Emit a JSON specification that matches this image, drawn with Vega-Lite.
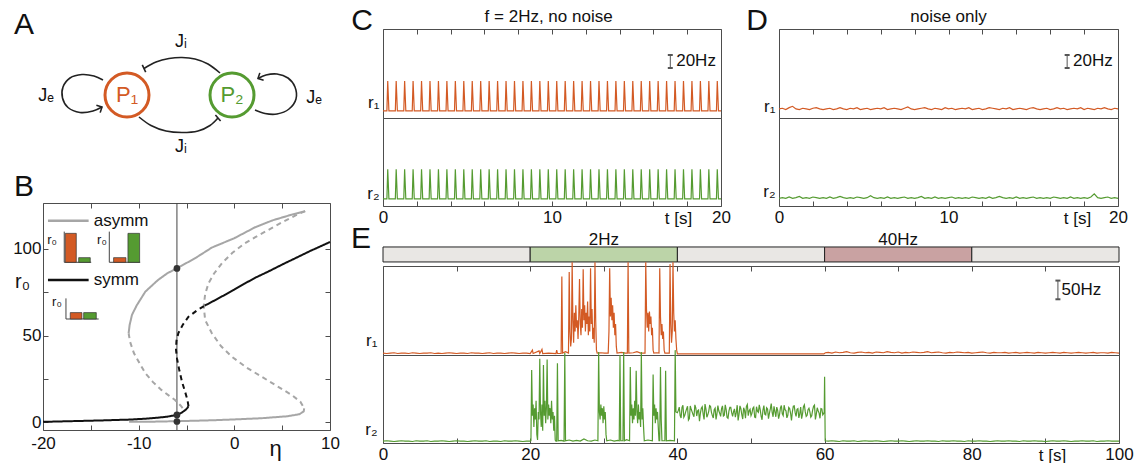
{
"padding": {"left": 12, "top": 5, "right": 2, "bottom": 2},
"background": "white",
"config": {
  "font": "Liberation Sans",
  "view": {"stroke": "#4d4d4d", "strokeWidth": 1},
  "axis": {"domain": false, "grid": false, "labelFontSize": 17, "labelColor": "#111111", "labelFont": "Liberation Sans, DejaVu Sans", "tickColor": "#4d4d4d", "tickWidth": 1, "labelFlush": false, "labelOverlap": false, "titleFontWeight": "normal", "titleColor": "#111111", "titleFont": "Liberation Sans, DejaVu Sans", "titlePadding": 0},
  "text": {"font": "Liberation Sans, DejaVu Sans", "fontSize": 17, "color": "#111111"}
},
"datasets": {
"cs": [{"t":0,"r":1},
{"t":0.23,"r":1},{"t":0.28,"r":47},{"t":0.35,"r":1},{"t":0.73,"r":1},{"t":0.78,"r":47},{"t":0.85,"r":1},
{"t":1.23,"r":1},{"t":1.28,"r":47},{"t":1.35,"r":1},{"t":1.73,"r":1},{"t":1.78,"r":47},{"t":1.85,"r":1},
{"t":2.23,"r":1},{"t":2.28,"r":47},{"t":2.35,"r":1},{"t":2.73,"r":1},{"t":2.78,"r":47},{"t":2.85,"r":1},
{"t":3.23,"r":1},{"t":3.28,"r":47},{"t":3.35,"r":1},{"t":3.73,"r":1},{"t":3.78,"r":47},{"t":3.85,"r":1},
{"t":4.23,"r":1},{"t":4.28,"r":47},{"t":4.35,"r":1},{"t":4.73,"r":1},{"t":4.78,"r":47},{"t":4.85,"r":1},
{"t":5.23,"r":1},{"t":5.28,"r":47},{"t":5.35,"r":1},{"t":5.73,"r":1},{"t":5.78,"r":47},{"t":5.85,"r":1},
{"t":6.23,"r":1},{"t":6.28,"r":47},{"t":6.35,"r":1},{"t":6.73,"r":1},{"t":6.78,"r":47},{"t":6.85,"r":1},
{"t":7.23,"r":1},{"t":7.28,"r":47},{"t":7.35,"r":1},{"t":7.73,"r":1},{"t":7.78,"r":47},{"t":7.85,"r":1},
{"t":8.23,"r":1},{"t":8.28,"r":47},{"t":8.35,"r":1},{"t":8.73,"r":1},{"t":8.78,"r":47},{"t":8.85,"r":1},
{"t":9.23,"r":1},{"t":9.28,"r":47},{"t":9.35,"r":1},{"t":9.73,"r":1},{"t":9.78,"r":47},{"t":9.85,"r":1},
{"t":10.23,"r":1},{"t":10.28,"r":47},{"t":10.35,"r":1},{"t":10.73,"r":1},{"t":10.78,"r":47},{"t":10.85,"r":1},
{"t":11.23,"r":1},{"t":11.28,"r":47},{"t":11.35,"r":1},{"t":11.73,"r":1},{"t":11.78,"r":47},{"t":11.85,"r":1},
{"t":12.23,"r":1},{"t":12.28,"r":47},{"t":12.35,"r":1},{"t":12.73,"r":1},{"t":12.78,"r":47},{"t":12.85,"r":1},
{"t":13.23,"r":1},{"t":13.28,"r":47},{"t":13.35,"r":1},{"t":13.73,"r":1},{"t":13.78,"r":47},{"t":13.85,"r":1},
{"t":14.23,"r":1},{"t":14.28,"r":47},{"t":14.35,"r":1},{"t":14.73,"r":1},{"t":14.78,"r":47},{"t":14.85,"r":1},
{"t":15.23,"r":1},{"t":15.28,"r":47},{"t":15.35,"r":1},{"t":15.73,"r":1},{"t":15.78,"r":47},{"t":15.85,"r":1},
{"t":16.23,"r":1},{"t":16.28,"r":47},{"t":16.35,"r":1},{"t":16.73,"r":1},{"t":16.78,"r":47},{"t":16.85,"r":1},
{"t":17.23,"r":1},{"t":17.28,"r":47},{"t":17.35,"r":1},{"t":17.73,"r":1},{"t":17.78,"r":47},{"t":17.85,"r":1},
{"t":18.23,"r":1},{"t":18.28,"r":47},{"t":18.35,"r":1},{"t":18.73,"r":1},{"t":18.78,"r":47},{"t":18.85,"r":1},
{"t":19.23,"r":1},{"t":19.28,"r":47},{"t":19.35,"r":1},{"t":19.73,"r":1},{"t":19.78,"r":47},{"t":19.85,"r":1},
{"t":20,"r":1}],
"dn": [
{"t":0,"a":4,"b":2},{"t":0.2,"a":5,"b":3},{"t":0.4,"a":3,"b":2},{"t":0.6,"a":6,"b":4},{"t":0.8,"a":8,"b":2},{"t":1,"a":4,"b":3},{"t":1.2,"a":3,"b":5},{"t":1.4,"a":5,"b":2},{"t":1.6,"a":4,"b":3},{"t":1.8,"a":3,"b":2},
{"t":2,"a":5,"b":4},{"t":2.2,"a":6,"b":3},{"t":2.4,"a":4,"b":2},{"t":2.6,"a":3,"b":3},{"t":2.8,"a":4,"b":2},{"t":3,"a":5,"b":4},{"t":3.2,"a":3,"b":2},{"t":3.4,"a":4,"b":3},{"t":3.6,"a":6,"b":5},{"t":3.8,"a":4,"b":3},
{"t":4,"a":3,"b":2},{"t":4.2,"a":5,"b":3},{"t":4.4,"a":4,"b":2},{"t":4.6,"a":6,"b":4},{"t":4.8,"a":3,"b":3},{"t":5,"a":4,"b":2},{"t":5.2,"a":5,"b":3},{"t":5.4,"a":3,"b":6},{"t":5.6,"a":4,"b":3},{"t":5.8,"a":5,"b":2},
{"t":6,"a":4,"b":3},{"t":6.2,"a":6,"b":2},{"t":6.4,"a":3,"b":4},{"t":6.6,"a":4,"b":2},{"t":6.8,"a":5,"b":3},{"t":7,"a":4,"b":2},{"t":7.2,"a":3,"b":3},{"t":7.4,"a":5,"b":4},{"t":7.6,"a":7,"b":2},{"t":7.8,"a":4,"b":3},
{"t":8,"a":3,"b":2},{"t":8.2,"a":4,"b":3},{"t":8.4,"a":5,"b":5},{"t":8.6,"a":6,"b":2},{"t":8.8,"a":4,"b":3},{"t":9,"a":3,"b":2},{"t":9.2,"a":5,"b":4},{"t":9.4,"a":4,"b":2},{"t":9.6,"a":3,"b":3},{"t":9.8,"a":6,"b":2},
{"t":10,"a":4,"b":3},{"t":10.2,"a":5,"b":4},{"t":10.4,"a":3,"b":2},{"t":10.6,"a":4,"b":3},{"t":10.8,"a":5,"b":2},{"t":11,"a":4,"b":3},{"t":11.2,"a":6,"b":2},{"t":11.4,"a":3,"b":4},{"t":11.6,"a":4,"b":3},{"t":11.8,"a":5,"b":2},
{"t":12,"a":3,"b":3},{"t":12.2,"a":4,"b":2},{"t":12.4,"a":6,"b":4},{"t":12.6,"a":5,"b":2},{"t":12.8,"a":4,"b":3},{"t":13,"a":3,"b":5},{"t":13.2,"a":5,"b":3},{"t":13.4,"a":4,"b":2},{"t":13.6,"a":6,"b":3},{"t":13.8,"a":3,"b":2},
{"t":14,"a":4,"b":4},{"t":14.2,"a":5,"b":2},{"t":14.4,"a":4,"b":3},{"t":14.6,"a":3,"b":2},{"t":14.8,"a":5,"b":3},{"t":15,"a":6,"b":4},{"t":15.2,"a":4,"b":2},{"t":15.4,"a":3,"b":3},{"t":15.6,"a":4,"b":2},{"t":15.8,"a":5,"b":3},
{"t":16,"a":3,"b":2},{"t":16.2,"a":4,"b":4},{"t":16.4,"a":6,"b":3},{"t":16.6,"a":4,"b":2},{"t":16.8,"a":5,"b":3},{"t":17,"a":3,"b":2},{"t":17.2,"a":4,"b":4},{"t":17.4,"a":5,"b":2},{"t":17.6,"a":4,"b":3},{"t":17.8,"a":6,"b":2},
{"t":18,"a":3,"b":3},{"t":18.2,"a":5,"b":2},{"t":18.4,"a":4,"b":4},{"t":18.6,"a":3,"b":9},{"t":18.8,"a":5,"b":3},{"t":19,"a":4,"b":2},{"t":19.2,"a":6,"b":3},{"t":19.4,"a":4,"b":4},{"t":19.6,"a":3,"b":2},{"t":19.8,"a":5,"b":3},
{"t":20,"a":4,"b":2}],
"ea": [
{"t":0,"r":2},{"t":0.5,"r":1},{"t":1,"r":2},{"t":1.5,"r":3},{"t":2,"r":1},{"t":2.5,"r":2},{"t":3,"r":2},{"t":3.5,"r":1},{"t":4,"r":3},{"t":4.5,"r":2},
{"t":5,"r":1},{"t":5.5,"r":2},{"t":6,"r":2},{"t":6.5,"r":3},{"t":7,"r":1},{"t":7.5,"r":2},{"t":8,"r":1},{"t":8.5,"r":2},{"t":9,"r":3},{"t":9.5,"r":2},
{"t":10,"r":1},{"t":10.5,"r":2},{"t":11,"r":2},{"t":11.5,"r":1},{"t":12,"r":3},{"t":12.5,"r":2},{"t":13,"r":2},{"t":13.5,"r":1},{"t":14,"r":2},{"t":14.5,"r":3},
{"t":15,"r":1},{"t":15.5,"r":2},{"t":16,"r":2},{"t":16.5,"r":1},{"t":17,"r":2},{"t":17.5,"r":3},{"t":18,"r":2},{"t":18.5,"r":1},{"t":19,"r":2},{"t":19.5,"r":2},
{"t":20,"r":1},{"t":20.3,"r":10},{"t":20.4,"r":1},{"t":21.2,"r":8},{"t":21.3,"r":1},{"t":21.6,"r":12},{"t":21.7,"r":1},{"t":22.5,"r":2},{"t":23.5,"r":1},{"t":23.6,"r":10},{"t":23.7,"r":1},
{"t":24.2,"r":1},{"t":24.3,"r":207},{"t":24.4,"r":2},{"t":24.8,"r":6},{"t":25.2,"r":2},{"t":25.3,"r":219},{"t":25.4,"r":60},{"t":25.5,"r":20},{"t":25.6,"r":40},{"t":25.7,"r":245},{"t":25.8,"r":90},{"t":25.9,"r":30},
{"t":26,"r":110},{"t":26.1,"r":60},{"t":26.2,"r":130},{"t":26.3,"r":70},{"t":26.4,"r":90},{"t":26.5,"r":40},{"t":26.6,"r":100},{"t":26.7,"r":200},{"t":26.8,"r":80},{"t":26.9,"r":50},
{"t":27,"r":120},{"t":27.1,"r":70},{"t":27.2,"r":226},{"t":27.3,"r":90},{"t":27.4,"r":130},{"t":27.5,"r":60},{"t":27.6,"r":110},{"t":27.7,"r":80},{"t":27.8,"r":140},{"t":27.9,"r":50},
{"t":28,"r":100},{"t":28.1,"r":60},{"t":28.2,"r":229},{"t":28.3,"r":80},{"t":28.4,"r":120},{"t":28.5,"r":40},{"t":28.6,"r":70},{"t":28.7,"r":30},{"t":28.8,"r":245},{"t":28.9,"r":90},{"t":29,"r":10},{"t":29.1,"r":2},
{"t":29.6,"r":3},{"t":30.1,"r":2},{"t":30.6,"r":2},{"t":30.7,"r":60},{"t":30.8,"r":229},{"t":30.9,"r":100},{"t":31,"r":150},{"t":31.1,"r":90},{"t":31.2,"r":130},{"t":31.3,"r":70},{"t":31.4,"r":110},{"t":31.5,"r":50},{"t":31.6,"r":80},{"t":31.7,"r":20},{"t":31.8,"r":2},
{"t":32.4,"r":4},{"t":32.9,"r":2},{"t":33.2,"r":2},{"t":33.3,"r":245},{"t":33.4,"r":2},{"t":34,"r":3},{"t":34.5,"r":6},{"t":35,"r":2},
{"t":35.6,"r":2},{"t":35.7,"r":245},{"t":35.8,"r":120},{"t":35.9,"r":70},{"t":36,"r":110},{"t":36.1,"r":60},{"t":36.2,"r":113},{"t":36.3,"r":80},{"t":36.4,"r":100},{"t":36.5,"r":50},{"t":36.6,"r":70},{"t":36.7,"r":10},{"t":36.8,"r":2},
{"t":37.2,"r":3},{"t":37.5,"r":2},{"t":37.6,"r":229},{"t":37.7,"r":100},{"t":37.8,"r":50},{"t":37.9,"r":80},{"t":38,"r":40},{"t":38.1,"r":60},{"t":38.2,"r":10},{"t":38.3,"r":2},
{"t":38.6,"r":2},{"t":38.9,"r":2},{"t":39,"r":240},{"t":39.1,"r":80},{"t":39.2,"r":30},{"t":39.3,"r":60},{"t":39.4,"r":245},{"t":39.5,"r":110},{"t":39.6,"r":60},{"t":39.7,"r":90},{"t":39.8,"r":40},{"t":39.9,"r":10},
{"t":40,"r":0},{"t":59.9,"r":0},{"t":60.1,"r":3},
{"t":60.5,"r":4},{"t":61,"r":2},{"t":61.5,"r":5},{"t":62,"r":3},{"t":62.5,"r":4},{"t":63,"r":6},{"t":63.5,"r":3},{"t":64,"r":2},{"t":64.5,"r":4},{"t":65,"r":5},
{"t":65.5,"r":3},{"t":66,"r":4},{"t":66.5,"r":2},{"t":67,"r":5},{"t":67.5,"r":4},{"t":68,"r":3},{"t":68.5,"r":6},{"t":69,"r":4},{"t":69.5,"r":3},{"t":70,"r":5},
{"t":70.5,"r":2},{"t":71,"r":4},{"t":71.5,"r":3},{"t":72,"r":5},{"t":72.5,"r":4},{"t":73,"r":3},{"t":73.5,"r":4},{"t":74,"r":6},{"t":74.5,"r":3},{"t":75,"r":4},
{"t":75.5,"r":5},{"t":76,"r":3},{"t":76.5,"r":2},{"t":77,"r":4},{"t":77.5,"r":3},{"t":78,"r":5},{"t":78.5,"r":4},{"t":79,"r":3},{"t":79.5,"r":4},{"t":80,"r":2},
{"t":80.5,"r":3},{"t":81,"r":4},{"t":81.5,"r":5},{"t":82,"r":3},{"t":82.5,"r":2},{"t":83,"r":4},{"t":83.5,"r":3},{"t":84,"r":3},{"t":84.5,"r":4},{"t":85,"r":2},
{"t":85.5,"r":3},{"t":86,"r":4},{"t":86.5,"r":2},{"t":87,"r":3},{"t":87.5,"r":4},{"t":88,"r":3},{"t":88.5,"r":2},{"t":89,"r":4},{"t":89.5,"r":3},{"t":90,"r":2},
{"t":90.5,"r":3},{"t":91,"r":4},{"t":91.5,"r":3},{"t":92,"r":2},{"t":92.5,"r":4},{"t":93,"r":3},{"t":93.5,"r":2},{"t":94,"r":3},{"t":94.5,"r":4},{"t":95,"r":3},
{"t":95.5,"r":2},{"t":96,"r":3},{"t":96.5,"r":4},{"t":97,"r":2},{"t":97.5,"r":3},{"t":98,"r":3},{"t":98.5,"r":2},{"t":99,"r":4},{"t":99.5,"r":3},{"t":100,"r":2}],
"eb": [
{"t":0,"r":2},{"t":0.5,"r":3},{"t":1,"r":2},{"t":1.5,"r":1},{"t":2,"r":2},{"t":2.5,"r":3},{"t":3,"r":2},{"t":3.5,"r":2},{"t":4,"r":1},{"t":4.5,"r":3},
{"t":5,"r":2},{"t":5.5,"r":2},{"t":6,"r":3},{"t":6.5,"r":1},{"t":7,"r":2},{"t":7.5,"r":2},{"t":8,"r":3},{"t":8.5,"r":2},{"t":9,"r":1},{"t":9.5,"r":2},
{"t":10,"r":3},{"t":10.5,"r":2},{"t":11,"r":2},{"t":11.5,"r":1},{"t":12,"r":2},{"t":12.5,"r":3},{"t":13,"r":2},{"t":13.5,"r":2},{"t":14,"r":3},{"t":14.5,"r":1},
{"t":15,"r":2},{"t":15.5,"r":2},{"t":16,"r":1},{"t":16.5,"r":3},{"t":17,"r":2},{"t":17.5,"r":2},{"t":18,"r":3},{"t":18.5,"r":2},{"t":19,"r":1},{"t":19.5,"r":2},
{"t":20,"r":2},{"t":20.1,"r":3},{"t":20.2,"r":192},{"t":20.3,"r":70},{"t":20.4,"r":100},{"t":20.5,"r":40},{"t":20.6,"r":90},{"t":20.7,"r":60},{"t":20.8,"r":110},{"t":20.9,"r":20},
{"t":21,"r":5},{"t":21.1,"r":80},{"t":21.2,"r":60},{"t":21.3,"r":222},{"t":21.4,"r":80},{"t":21.5,"r":40},{"t":21.6,"r":100},{"t":21.7,"r":30},{"t":21.8,"r":205},{"t":21.9,"r":70},
{"t":22,"r":110},{"t":22.1,"r":50},{"t":22.2,"r":90},{"t":22.3,"r":220},{"t":22.4,"r":60},{"t":22.5,"r":100},{"t":22.6,"r":70},{"t":22.7,"r":90},{"t":22.8,"r":50},{"t":22.9,"r":110},
{"t":23,"r":60},{"t":23.1,"r":80},{"t":23.2,"r":30},{"t":23.3,"r":70},{"t":23.4,"r":5},{"t":23.5,"r":2},{"t":23.6,"r":2},{"t":23.7,"r":210},{"t":23.8,"r":3},{"t":24.2,"r":4},
{"t":24.6,"r":2},{"t":24.7,"r":237},{"t":24.8,"r":3},{"t":25.3,"r":5},{"t":25.8,"r":2},{"t":26.3,"r":4},{"t":26.8,"r":2},{"t":27.3,"r":8},{"t":27.8,"r":3},{"t":28.3,"r":2},{"t":28.8,"r":5},
{"t":29.2,"r":3},{"t":29.3,"r":240},{"t":29.4,"r":80},{"t":29.5,"r":60},{"t":29.6,"r":100},{"t":29.7,"r":70},{"t":29.8,"r":90},{"t":29.9,"r":50},{"t":30,"r":95},{"t":30.1,"r":60},{"t":30.2,"r":80},{"t":30.3,"r":20},{"t":30.4,"r":3},
{"t":30.9,"r":5},{"t":31.4,"r":2},{"t":31.9,"r":4},{"t":32.1,"r":3},{"t":32.2,"r":232},{"t":32.3,"r":3},{"t":32.6,"r":3},{"t":32.7,"r":240},{"t":32.8,"r":3},{"t":33.1,"r":6},
{"t":33.5,"r":3},{"t":33.6,"r":200},{"t":33.7,"r":70},{"t":33.8,"r":100},{"t":33.9,"r":50},{"t":34,"r":90},{"t":34.1,"r":60},{"t":34.2,"r":110},{"t":34.3,"r":70},{"t":34.4,"r":190},
{"t":34.5,"r":80},{"t":34.6,"r":50},{"t":34.7,"r":100},{"t":34.8,"r":60},{"t":34.9,"r":80},{"t":35,"r":40},{"t":35.1,"r":240},{"t":35.2,"r":60},{"t":35.3,"r":90},{"t":35.4,"r":40},{"t":35.5,"r":3},
{"t":36,"r":5},{"t":36.6,"r":3},{"t":36.7,"r":180},{"t":36.8,"r":70},{"t":36.9,"r":100},{"t":37,"r":50},{"t":37.1,"r":90},{"t":37.2,"r":60},{"t":37.3,"r":80},{"t":37.4,"r":40},{"t":37.5,"r":3},
{"t":37.6,"r":3},{"t":37.7,"r":200},{"t":37.8,"r":60},{"t":37.9,"r":3},{"t":38.3,"r":3},{"t":38.4,"r":190},{"t":38.5,"r":3},{"t":39,"r":4},{"t":39.6,"r":3},{"t":39.7,"r":245},{"t":39.8,"r":80},
{"t":40,"r":78},{"t":40.25,"r":93},{"t":40.5,"r":64},{"t":40.75,"r":98},{"t":41,"r":71},{"t":41.25,"r":88},{"t":41.5,"r":58},{"t":41.75,"r":96},{"t":42,"r":80},{"t":42.25,"r":67},
{"t":42.5,"r":91},{"t":42.75,"r":83},{"t":43,"r":55},{"t":43.25,"r":90},{"t":43.5,"r":74},{"t":43.75,"r":101},{"t":44,"r":66},{"t":44.25,"r":81},{"t":44.5,"r":95},{"t":44.75,"r":70},
{"t":45,"r":86},{"t":45.25,"r":60},{"t":45.5,"r":97},{"t":45.75,"r":76},{"t":46,"r":89},{"t":46.25,"r":69},{"t":46.5,"r":99},{"t":46.75,"r":65},{"t":47,"r":82},{"t":47.25,"r":92},
{"t":47.5,"r":68},{"t":47.75,"r":88},{"t":48,"r":78},{"t":48.25,"r":57},{"t":48.5,"r":96},{"t":48.75,"r":73},{"t":49,"r":91},{"t":49.25,"r":63},{"t":49.5,"r":100},{"t":49.75,"r":83},
{"t":50,"r":70},{"t":50.25,"r":90},{"t":50.5,"r":66},{"t":50.75,"r":94},{"t":51,"r":79},{"t":51.25,"r":86},{"t":51.5,"r":59},{"t":51.75,"r":97},{"t":52,"r":72},{"t":52.25,"r":88},
{"t":52.5,"r":76},{"t":52.75,"r":102},{"t":53,"r":67},{"t":53.25,"r":81},{"t":53.5,"r":93},{"t":53.75,"r":62},{"t":54,"r":91},{"t":54.25,"r":75},{"t":54.5,"r":98},{"t":54.75,"r":83},
{"t":55,"r":71},{"t":55.25,"r":89},{"t":55.5,"r":57},{"t":55.75,"r":95},{"t":56,"r":78},{"t":56.25,"r":87},{"t":56.5,"r":64},{"t":56.75,"r":93},{"t":57,"r":74},{"t":57.25,"r":99},
{"t":57.5,"r":68},{"t":57.75,"r":86},{"t":58,"r":80},{"t":58.25,"r":70},{"t":58.5,"r":95},{"t":58.75,"r":60},{"t":59,"r":91},{"t":59.25,"r":77},{"t":59.5,"r":89},{"t":59.75,"r":72},
{"t":40.125,"r":84},{"t":40.375,"r":70},{"t":40.625,"r":92},{"t":40.875,"r":66},{"t":41.125,"r":80},{"t":41.375,"r":95},{"t":41.625,"r":62},{"t":41.875,"r":87},{"t":42.125,"r":73},{"t":42.375,"r":99},
{"t":42.625,"r":69},{"t":42.875,"r":85},{"t":43.125,"r":77},{"t":43.375,"r":94},{"t":43.625,"r":60},{"t":43.875,"r":88},{"t":44.125,"r":72},{"t":44.375,"r":97},{"t":44.625,"r":79},{"t":44.875,"r":64},
{"t":45.125,"r":90},{"t":45.375,"r":75},{"t":45.625,"r":83},{"t":45.875,"r":68},{"t":46.125,"r":96},{"t":46.375,"r":71},{"t":46.625,"r":86},{"t":46.875,"r":63},{"t":47.125,"r":92},{"t":47.375,"r":78},
{"t":47.625,"r":81},{"t":47.875,"r":66},{"t":48.125,"r":98},{"t":48.375,"r":74},{"t":48.625,"r":89},{"t":48.875,"r":61},{"t":49.125,"r":84},{"t":49.375,"r":95},{"t":49.625,"r":70},{"t":49.875,"r":87},
{"t":50.125,"r":76},{"t":50.375,"r":93},{"t":50.625,"r":65},{"t":50.875,"r":82},{"t":51.125,"r":99},{"t":51.375,"r":69},{"t":51.625,"r":85},{"t":51.875,"r":74},{"t":52.125,"r":91},{"t":52.375,"r":62},
{"t":52.625,"r":88},{"t":52.875,"r":79},{"t":53.125,"r":95},{"t":53.375,"r":67},{"t":53.625,"r":84},{"t":53.875,"r":73},{"t":54.125,"r":97},{"t":54.375,"r":70},{"t":54.625,"r":86},{"t":54.875,"r":64},
{"t":55.125,"r":92},{"t":55.375,"r":77},{"t":55.625,"r":81},{"t":55.875,"r":96},{"t":56.125,"r":68},{"t":56.375,"r":89},{"t":56.625,"r":75},{"t":56.875,"r":62},{"t":57.125,"r":94},{"t":57.375,"r":80},
{"t":57.625,"r":71},{"t":57.875,"r":90},{"t":58.125,"r":66},{"t":58.375,"r":85},{"t":58.625,"r":98},{"t":58.875,"r":74},{"t":59.125,"r":83},{"t":59.375,"r":63},{"t":59.625,"r":88},{"t":59.875,"r":76},
{"t":59.95,"r":80},{"t":60,"r":174},{"t":60.08,"r":3},
{"t":60.5,"r":2},{"t":61,"r":3},{"t":61.5,"r":2},{"t":62,"r":1},{"t":62.5,"r":3},{"t":63,"r":2},{"t":63.5,"r":2},{"t":64,"r":3},{"t":64.5,"r":1},{"t":65,"r":2},
{"t":65.5,"r":3},{"t":66,"r":2},{"t":66.5,"r":2},{"t":67,"r":3},{"t":67.5,"r":2},{"t":68,"r":1},{"t":68.5,"r":2},{"t":69,"r":3},{"t":69.5,"r":2},{"t":70,"r":2},
{"t":70.5,"r":3},{"t":71,"r":2},{"t":71.5,"r":1},{"t":72,"r":2},{"t":72.5,"r":3},{"t":73,"r":2},{"t":73.5,"r":2},{"t":74,"r":3},{"t":74.5,"r":2},{"t":75,"r":2},
{"t":75.5,"r":1},{"t":76,"r":3},{"t":76.5,"r":2},{"t":77,"r":2},{"t":77.5,"r":3},{"t":78,"r":2},{"t":78.5,"r":2},{"t":79,"r":1},{"t":79.5,"r":3},{"t":80,"r":2},
{"t":80.5,"r":2},{"t":81,"r":3},{"t":81.5,"r":2},{"t":82,"r":2},{"t":82.5,"r":1},{"t":83,"r":2},{"t":83.5,"r":3},{"t":84,"r":2},{"t":84.5,"r":2},{"t":85,"r":3},
{"t":85.5,"r":2},{"t":86,"r":2},{"t":86.5,"r":1},{"t":87,"r":3},{"t":87.5,"r":2},{"t":88,"r":2},{"t":88.5,"r":3},{"t":89,"r":2},{"t":89.5,"r":2},{"t":90,"r":1},
{"t":90.5,"r":2},{"t":91,"r":3},{"t":91.5,"r":2},{"t":92,"r":2},{"t":92.5,"r":3},{"t":93,"r":2},{"t":93.5,"r":1},{"t":94,"r":2},{"t":94.5,"r":2},{"t":95,"r":3},
{"t":95.5,"r":2},{"t":96,"r":2},{"t":96.5,"r":3},{"t":97,"r":1},{"t":97.5,"r":2},{"t":98,"r":2},{"t":98.5,"r":3},{"t":99,"r":2},{"t":99.5,"r":2},{"t":100,"r":2}],
"stim": [{"s":0,"e":20,"c":"off"},{"s":20,"e":40,"c":"2Hz"},{"s":40,"e":60,"c":"off"},{"s":60,"e":80,"c":"40Hz"},{"s":80,"e":100,"c":"off"}],
"bc": [
{"g":"a1","k":"asymm","st":"stable","i":0,"e":-11.05,"r":51.4},{"g":"a1","k":"asymm","st":"stable","i":1,"e":-10.95,"r":56},{"g":"a1","k":"asymm","st":"stable","i":2,"e":-10.7,"r":62},{"g":"a1","k":"asymm","st":"stable","i":3,"e":-10.2,"r":67.5},{"g":"a1","k":"asymm","st":"stable","i":4,"e":-9.3,"r":75.4},{"g":"a1","k":"asymm","st":"stable","i":5,"e":-8,"r":82},{"g":"a1","k":"asymm","st":"stable","i":6,"e":-7,"r":86},{"g":"a1","k":"asymm","st":"stable","i":7,"e":-6,"r":88.8},{"g":"a1","k":"asymm","st":"stable","i":8,"e":-4,"r":95},{"g":"a1","k":"asymm","st":"stable","i":9,"e":-2.35,"r":100.8},{"g":"a1","k":"asymm","st":"stable","i":10,"e":0,"r":106.2},{"g":"a1","k":"asymm","st":"stable","i":11,"e":2.17,"r":112.5},{"g":"a1","k":"asymm","st":"stable","i":12,"e":4,"r":116.5},{"g":"a1","k":"asymm","st":"stable","i":13,"e":6,"r":119.8},{"g":"a1","k":"asymm","st":"stable","i":14,"e":7.4,"r":121.8},
{"g":"a2","k":"asymm","st":"unstable","i":0,"e":7.4,"r":121.8},{"g":"a2","k":"asymm","st":"unstable","i":1,"e":6.5,"r":119.6},{"g":"a2","k":"asymm","st":"unstable","i":2,"e":5.2,"r":116},{"g":"a2","k":"asymm","st":"unstable","i":3,"e":3.9,"r":112},{"g":"a2","k":"asymm","st":"unstable","i":4,"e":2.5,"r":107.8},{"g":"a2","k":"asymm","st":"unstable","i":5,"e":1.1,"r":103.3},{"g":"a2","k":"asymm","st":"unstable","i":6,"e":-0.2,"r":97.8},{"g":"a2","k":"asymm","st":"unstable","i":7,"e":-1.3,"r":91.7},{"g":"a2","k":"asymm","st":"unstable","i":8,"e":-2.1,"r":86},{"g":"a2","k":"asymm","st":"unstable","i":9,"e":-2.7,"r":80.2},{"g":"a2","k":"asymm","st":"unstable","i":10,"e":-3.05,"r":74},{"g":"a2","k":"asymm","st":"unstable","i":11,"e":-3.2,"r":67},{"g":"a2","k":"asymm","st":"unstable","i":12,"e":-3.05,"r":59},{"g":"a2","k":"asymm","st":"unstable","i":13,"e":-2.35,"r":51.4},{"g":"a2","k":"asymm","st":"unstable","i":14,"e":-1.4,"r":44},{"g":"a2","k":"asymm","st":"unstable","i":15,"e":-0.27,"r":37.9},{"g":"a2","k":"asymm","st":"unstable","i":16,"e":1.3,"r":31.5},{"g":"a2","k":"asymm","st":"unstable","i":17,"e":2.87,"r":26.3},{"g":"a2","k":"asymm","st":"unstable","i":18,"e":4.5,"r":20.8},{"g":"a2","k":"asymm","st":"unstable","i":19,"e":6,"r":15.8},{"g":"a2","k":"asymm","st":"unstable","i":20,"e":6.9,"r":11.9},{"g":"a2","k":"asymm","st":"unstable","i":21,"e":7.3,"r":8.1},
{"g":"a3","k":"asymm","st":"stable","i":0,"e":7.3,"r":8.1},{"g":"a3","k":"asymm","st":"stable","i":1,"e":7.25,"r":6.3},{"g":"a3","k":"asymm","st":"stable","i":2,"e":6.8,"r":4.7},{"g":"a3","k":"asymm","st":"stable","i":3,"e":5.5,"r":3.5},{"g":"a3","k":"asymm","st":"stable","i":4,"e":2.87,"r":2.4},{"g":"a3","k":"asymm","st":"stable","i":5,"e":0,"r":1.7},{"g":"a3","k":"asymm","st":"stable","i":6,"e":-2.35,"r":1.2},{"g":"a3","k":"asymm","st":"stable","i":7,"e":-5.8,"r":0.7},{"g":"a3","k":"asymm","st":"stable","i":8,"e":-8.5,"r":0.4},{"g":"a3","k":"asymm","st":"stable","i":9,"e":-11,"r":0.3},
{"g":"a4","k":"asymm","st":"unstable","i":0,"e":-11.05,"r":51.4},{"g":"a4","k":"asymm","st":"unstable","i":1,"e":-10.9,"r":46.5},{"g":"a4","k":"asymm","st":"unstable","i":2,"e":-10.5,"r":40},{"g":"a4","k":"asymm","st":"unstable","i":3,"e":-9.9,"r":34},{"g":"a4","k":"asymm","st":"unstable","i":4,"e":-9.3,"r":28.3},{"g":"a4","k":"asymm","st":"unstable","i":5,"e":-8.5,"r":23.2},{"g":"a4","k":"asymm","st":"unstable","i":6,"e":-7.6,"r":18.6},{"g":"a4","k":"asymm","st":"unstable","i":7,"e":-6.8,"r":15.3},{"g":"a4","k":"asymm","st":"unstable","i":8,"e":-6.2,"r":12.9},{"g":"a4","k":"asymm","st":"unstable","i":9,"e":-5.6,"r":9.6},{"g":"a4","k":"asymm","st":"unstable","i":10,"e":-5.3,"r":7.5},
{"g":"s1","k":"symm","st":"stable","i":0,"e":-20,"r":0.3},{"g":"s1","k":"symm","st":"stable","i":1,"e":-17,"r":0.7},{"g":"s1","k":"symm","st":"stable","i":2,"e":-14,"r":1.1},{"g":"s1","k":"symm","st":"stable","i":3,"e":-11,"r":1.6},{"g":"s1","k":"symm","st":"stable","i":4,"e":-9.3,"r":2.1},{"g":"s1","k":"symm","st":"stable","i":5,"e":-8,"r":2.7},{"g":"s1","k":"symm","st":"stable","i":6,"e":-7,"r":3.3},{"g":"s1","k":"symm","st":"stable","i":7,"e":-6,"r":4.3},{"g":"s1","k":"symm","st":"stable","i":8,"e":-5.5,"r":5.6},{"g":"s1","k":"symm","st":"stable","i":9,"e":-5.1,"r":7.2},{"g":"s1","k":"symm","st":"stable","i":10,"e":-4.88,"r":8.5},{"g":"s1","k":"symm","st":"stable","i":11,"e":-4.79,"r":9.3},
{"g":"s2","k":"symm","st":"unstable","i":0,"e":-4.79,"r":9.3},{"g":"s2","k":"symm","st":"unstable","i":1,"e":-4.9,"r":13},{"g":"s2","k":"symm","st":"unstable","i":2,"e":-5.14,"r":17.5},{"g":"s2","k":"symm","st":"unstable","i":3,"e":-5.45,"r":23},{"g":"s2","k":"symm","st":"unstable","i":4,"e":-5.75,"r":30},{"g":"s2","k":"symm","st":"unstable","i":5,"e":-6,"r":37},{"g":"s2","k":"symm","st":"unstable","i":6,"e":-6.1,"r":42},{"g":"s2","k":"symm","st":"unstable","i":7,"e":-6.05,"r":47},{"g":"s2","k":"symm","st":"unstable","i":8,"e":-5.85,"r":51.5},{"g":"s2","k":"symm","st":"unstable","i":9,"e":-5.4,"r":56.2},{"g":"s2","k":"symm","st":"unstable","i":10,"e":-4.79,"r":60.9},{"g":"s2","k":"symm","st":"unstable","i":11,"e":-3.9,"r":64.6},{"g":"s2","k":"symm","st":"unstable","i":12,"e":-3.1,"r":67.3},
{"g":"s3","k":"symm","st":"stable","i":0,"e":-3.1,"r":67.3},{"g":"s3","k":"symm","st":"stable","i":1,"e":-2,"r":70.5},{"g":"s3","k":"symm","st":"stable","i":2,"e":-1,"r":73.5},{"g":"s3","k":"symm","st":"stable","i":3,"e":0,"r":76.6},{"g":"s3","k":"symm","st":"stable","i":4,"e":1.13,"r":80.2},{"g":"s3","k":"symm","st":"stable","i":5,"e":2.3,"r":83.7},{"g":"s3","k":"symm","st":"stable","i":6,"e":3.56,"r":87},{"g":"s3","k":"symm","st":"stable","i":7,"e":5,"r":91},{"g":"s3","k":"symm","st":"stable","i":8,"e":6.35,"r":94.6},{"g":"s3","k":"symm","st":"stable","i":9,"e":8,"r":99},{"g":"s3","k":"symm","st":"stable","i":10,"e":10,"r":104}],
"bdots": [{"e":-6,"r":88.8},{"e":-6,"r":4.3},{"e":-6,"r":0.5}],
"bleg": [{"k":"asymm","e1":-19.48,"e2":-15.23,"et":-14.7,"r":116.2},{"k":"symm","e1":-19.48,"e2":-15.23,"et":-14.7,"r":82.1}],
"bbars": [{"p":"P1","e1":-17.67,"e2":-16.52,"r1":92.3,"r2":109},{"p":"P2","e1":-16.27,"e2":-15.06,"r1":92.3,"r2":95},{"p":"P1","e1":-12.62,"e2":-11.33,"r1":92.3,"r2":95},{"p":"P2","e1":-11.12,"e2":-9.9,"r1":92.3,"r2":109},{"p":"P1","e1":-17.15,"e2":-15.93,"r1":59.6,"r2":63.3},{"p":"P2","e1":-15.75,"e2":-14.43,"r1":59.6,"r2":63.3}],
"baxes": [{"e1":-17.78,"e2":-17.78,"r1":92.3,"r2":110},{"e1":-17.78,"e2":-14.96,"r1":92.3,"r2":92.3},{"e1":-13.07,"e2":-13.07,"r1":92.3,"r2":110},{"e1":-13.07,"e2":-9.84,"r1":92.3,"r2":92.3},{"e1":-17.6,"e2":-17.6,"r1":59.6,"r2":71.5},{"e1":-17.6,"e2":-14.18,"r1":59.6,"r2":59.6}],
"blab": [{"e":-19.06,"r":105},{"e":-13.84,"r":105},{"e":-18.54,"r":69.4}],
"anodes": [{"x":125,"y":95,"p":"P1","txt":"P₁"},{"x":230,"y":95,"p":"P2","txt":"P₂"}],
"alab": [{"x":179,"y":42,"txt":"Jᵢ"},{"x":179,"y":147,"txt":"Jᵢ"},{"x":44,"y":96,"txt":"Jₑ"},{"x":312,"y":98,"txt":"Jₑ"}],
"aarcs": [
{"g":"t","i":0,"x":218,"y":73},{"g":"t","i":1,"x":206,"y":64},{"g":"t","i":2,"x":193,"y":59},{"g":"t","i":3,"x":180,"y":57.5},{"g":"t","i":4,"x":167,"y":58.5},{"g":"t","i":5,"x":154,"y":62},{"g":"t","i":6,"x":142,"y":68.5},
{"g":"b","i":0,"x":137,"y":117},{"g":"b","i":1,"x":149,"y":125.5},{"g":"b","i":2,"x":164,"y":131},{"g":"b","i":3,"x":180,"y":132.5},{"g":"b","i":4,"x":196,"y":131},{"g":"b","i":5,"x":208,"y":125.5},{"g":"b","i":6,"x":216,"y":118},
{"g":"l","i":0,"x":101,"y":80},{"g":"l","i":1,"x":92,"y":76},{"g":"l","i":2,"x":80,"y":74.5},{"g":"l","i":3,"x":68,"y":78},{"g":"l","i":4,"x":61,"y":87},{"g":"l","i":5,"x":60.5,"y":98},{"g":"l","i":6,"x":66,"y":107.5},{"g":"l","i":7,"x":78,"y":112.5},{"g":"l","i":8,"x":91,"y":111},{"g":"l","i":9,"x":100,"y":107},
{"g":"r","i":0,"x":253,"y":110},{"g":"r","i":1,"x":263,"y":113.5},{"g":"r","i":2,"x":275,"y":114},{"g":"r","i":3,"x":287,"y":109},{"g":"r","i":4,"x":294,"y":99},{"g":"r","i":5,"x":293,"y":87},{"g":"r","i":6,"x":286,"y":78},{"g":"r","i":7,"x":275,"y":74},{"g":"r","i":8,"x":264,"y":75},{"g":"r","i":9,"x":256,"y":78.5},
{"g":"tb1","i":0,"x":140.3,"y":64.9},{"g":"tb1","i":1,"x":143.7,"y":72.1},
{"g":"tb2","i":0,"x":213.4,"y":115},{"g":"tb2","i":1,"x":218.6,"y":121}]
},
"spacing": 10,
"align": "none",
"hconcat": [
 {"spacing": 33, "align": "each", "bounds": "flush", "vconcat": [
  {"width": 287, "height": 141, "view": {"stroke": null},
   "layer": [
    {"data": {"name": "aarcs"},
     "mark": {"type": "line", "color": "#222222", "strokeWidth": 1.6, "interpolate": "catmull-rom"},
     "encoding": {
      "x": {"field": "x", "type": "quantitative", "scale": {"domain": [41, 328], "nice": false, "zero": false}, "axis": null},
      "y": {"field": "y", "type": "quantitative", "scale": {"domain": [29, 170], "nice": false, "zero": false, "reverse": true}, "axis": null},
      "detail": {"field": "g"},
      "order": {"field": "i", "type": "quantitative"}}},
    {"data": {"values": [{"x": 100, "y": 107}]},
     "mark": {"type": "point", "shape": "M-1,-1L0,0L-1,1", "size": 70, "angle": 333, "filled": false, "strokeWidth": 1.6, "color": "#222222", "opacity": 1},
     "encoding": {"x": {"field": "x", "type": "quantitative", "axis": null}, "y": {"field": "y", "type": "quantitative", "axis": null}}},
    {"data": {"values": [{"x": 256, "y": 78.5}]},
     "mark": {"type": "point", "shape": "M-1,-1L0,0L-1,1", "size": 70, "angle": 153, "filled": false, "strokeWidth": 1.6, "color": "#222222", "opacity": 1},
     "encoding": {"x": {"field": "x", "type": "quantitative", "axis": null}, "y": {"field": "y", "type": "quantitative", "axis": null}}},
    {"data": {"name": "anodes"},
     "mark": {"type": "point", "filled": false, "strokeWidth": 3, "size": 1936, "opacity": 1},
     "encoding": {"x": {"field": "x", "type": "quantitative", "axis": null}, "y": {"field": "y", "type": "quantitative", "axis": null},
      "color": {"field": "p", "type": "nominal", "scale": {"domain": ["asymm","symm","P1","P2","off","2Hz","40Hz"], "range": ["#a6a6a6","#111111","#d35a24","#559b31","#e9e7e4","#bcd4a8","#c9a2a2"]}, "legend": null}}},
    {"data": {"name": "anodes"},
     "mark": {"type": "text", "fontSize": 22, "baseline": "middle"},
     "encoding": {"x": {"field": "x", "type": "quantitative", "axis": null}, "y": {"field": "y", "type": "quantitative", "axis": null}, "text": {"field": "txt"},
      "color": {"field": "p", "type": "nominal", "scale": {"domain": ["asymm","symm","P1","P2","off","2Hz","40Hz"], "range": ["#a6a6a6","#111111","#d35a24","#559b31","#e9e7e4","#bcd4a8","#c9a2a2"]}, "legend": null}}},
    {"data": {"name": "alab"},
     "mark": {"type": "text", "fontSize": 18, "baseline": "middle"},
     "encoding": {"x": {"field": "x", "type": "quantitative", "axis": null}, "y": {"field": "y", "type": "quantitative", "axis": null}, "text": {"field": "txt"}}},
    {"data": {"values": [{}]},
     "mark": {"type": "text", "fontSize": 30, "baseline": "middle"},
     "encoding": {"x": {"datum": 22, "type": "quantitative", "axis": null}, "y": {"datum": 25, "type": "quantitative", "axis": null}, "text": {"value": "A"}}}
   ]},
  {"width": 287, "height": 227,
   "resolve": {"axis": {"x": "independent", "y": "independent"}},
   "layer": [
    {"data": {"values": [{}]}, "mark": {"type": "rule", "color": "#444444", "strokeWidth": 1},
     "encoding": {"x": {"datum": -6, "type": "quantitative", "axis": null}}},
    {"data": {"name": "bc"}, "mark": {"type": "line", "strokeWidth": 2},
     "encoding": {
      "x": {"field": "e", "type": "quantitative", "scale": {"domain": [-20, 10], "nice": false, "zero": false},
            "axis": {"values": [-20,-15,-10,-5,0,5,10], "tickSize": -5, "labelPadding": 10, "labelExpr": "datum.value % 10 === 0 ? '' + datum.value : ''", "title": "η", "titleX": 232, "titleY": 18, "titleFontSize": 22, "titleBaseline": "middle"}},
      "y": {"field": "r", "type": "quantitative", "scale": {"domain": [-4.4, 126.5], "nice": false, "zero": false},
            "axis": {"values": [0,25,50,75,100], "tickSize": -5, "labelPadding": 7, "labelExpr": "datum.value % 50 === 0 ? datum.label : ''", "title": "r₀", "titleAngle": 0, "titleX": -21, "titleY": 78, "titleFontSize": 20, "titleBaseline": "middle", "titleAlign": "center"}},
      "color": {"field": "k", "type": "nominal", "scale": {"domain": ["asymm","symm","P1","P2","off","2Hz","40Hz"], "range": ["#a6a6a6","#111111","#d35a24","#559b31","#e9e7e4","#bcd4a8","#c9a2a2"]}, "legend": null},
      "strokeDash": {"field": "st", "type": "nominal", "scale": {"domain": ["stable","unstable"], "range": [[1,0],[5,4]]}, "legend": null},
      "detail": {"field": "g"},
      "order": {"field": "i", "type": "quantitative"}}},
    {"data": {"name": "bdots"}, "mark": {"type": "point", "filled": true, "size": 45, "color": "#333333", "opacity": 1},
     "encoding": {
      "x": {"field": "e", "type": "quantitative", "axis": {"orient": "top", "values": [-20,-15,-10,-5,0,5,10], "labels": false, "tickSize": -5, "title": null}},
      "y": {"field": "r", "type": "quantitative", "axis": {"orient": "right", "values": [0,25,50,75,100], "labels": false, "tickSize": -5, "title": null}}}},
    {"data": {"name": "bleg"}, "mark": {"type": "rule", "strokeWidth": 2.5},
     "encoding": {"x": {"field": "e1", "type": "quantitative", "axis": null}, "x2": {"field": "e2"}, "y": {"field": "r", "type": "quantitative", "axis": null},
      "color": {"field": "k", "type": "nominal", "scale": {"domain": ["asymm","symm","P1","P2","off","2Hz","40Hz"], "range": ["#a6a6a6","#111111","#d35a24","#559b31","#e9e7e4","#bcd4a8","#c9a2a2"]}, "legend": null}}},
    {"data": {"name": "bleg"}, "mark": {"type": "text", "align": "left", "baseline": "middle", "fontSize": 17},
     "encoding": {"x": {"field": "et", "type": "quantitative", "axis": null}, "y": {"field": "r", "type": "quantitative", "axis": null}, "text": {"field": "k"}}},
    {"data": {"name": "baxes"}, "mark": {"type": "rule", "color": "#444444", "strokeWidth": 1},
     "encoding": {"x": {"field": "e1", "type": "quantitative", "axis": null}, "x2": {"field": "e2"}, "y": {"field": "r1", "type": "quantitative", "axis": null}, "y2": {"field": "r2"}}},
    {"data": {"name": "bbars"}, "mark": {"type": "rect", "stroke": "#333333", "strokeWidth": 0.7},
     "encoding": {"x": {"field": "e1", "type": "quantitative", "axis": null}, "x2": {"field": "e2"}, "y": {"field": "r1", "type": "quantitative", "axis": null}, "y2": {"field": "r2"},
      "color": {"field": "p", "type": "nominal", "scale": {"domain": ["asymm","symm","P1","P2","off","2Hz","40Hz"], "range": ["#a6a6a6","#111111","#d35a24","#559b31","#e9e7e4","#bcd4a8","#c9a2a2"]}, "legend": null}}},
    {"data": {"name": "blab"}, "mark": {"type": "text", "fontSize": 13, "baseline": "middle"},
     "encoding": {"x": {"field": "e", "type": "quantitative", "axis": null}, "y": {"field": "r", "type": "quantitative", "axis": null}, "text": {"value": "r₀"}}},
    {"data": {"values": [{}]}, "mark": {"type": "text", "fontSize": 30, "baseline": "middle", "dx": -19, "dy": -16},
     "encoding": {"x": {"datum": -20, "type": "quantitative", "axis": null}, "y": {"datum": 126.5, "type": "quantitative", "axis": null}, "text": {"value": "B"}}}
   ]}
 ]},
 {"spacing": -3, "align": "each", "vconcat": [
  {"spacing": 14, "align": "each", "hconcat": [
   {"spacing": 0, "align": "each", "bounds": "flush", "vconcat": [
    {"width": 338, "height": 89,
     "resolve": {"axis": {"x": "independent", "y": "independent"}},
     "layer": [
      {"data": {"name": "cs"}, "mark": {"type": "line", "color": "#d35a24", "strokeWidth": 1.2},
       "encoding": {
        "x": {"field": "t", "type": "quantitative", "scale": {"domain": [0, 20], "nice": false, "zero": false}, "axis": {"orient": "top", "values": [0,2,4,6,8,10,12,14,16,18,20], "labels": false, "tickSize": -5, "title": null}},
        "y": {"field": "r", "type": "quantitative", "scale": {"domain": [-10, 127], "nice": false, "zero": false}, "axis": {"values": [14], "labelExpr": "'r₁'", "ticks": false, "labelPadding": 4, "title": null}}}},
      {"data": {"values": [{"t": 17, "lo": 67, "hi": 87}]}, "mark": {"type": "rule", "color": "#555555"},
       "encoding": {"x": {"field": "t", "type": "quantitative", "axis": null}, "y": {"field": "lo", "type": "quantitative", "axis": null}, "y2": {"field": "hi"}}},
      {"data": {"values": [{"t": 17, "r": 67}, {"t": 17, "r": 87}]}, "mark": {"type": "point", "shape": "stroke", "size": 25, "filled": false, "color": "#555555", "opacity": 1},
       "encoding": {"x": {"field": "t", "type": "quantitative", "axis": null}, "y": {"field": "r", "type": "quantitative", "axis": null}}},
      {"data": {"values": [{"t": 17.35, "r": 77, "txt": "20Hz"}]}, "mark": {"type": "text", "align": "left", "baseline": "middle", "fontSize": 17},
       "encoding": {"x": {"field": "t", "type": "quantitative", "axis": null}, "y": {"field": "r", "type": "quantitative", "axis": null}, "text": {"field": "txt"}}},
      {"data": {"values": [{}]}, "mark": {"type": "text", "fontSize": 17, "baseline": "alphabetic", "dy": -7},
       "encoding": {"x": {"datum": 9.8, "type": "quantitative", "axis": null}, "y": {"datum": 127, "type": "quantitative", "axis": null}, "text": {"value": "f = 2Hz, no noise"}}},
      {"data": {"values": [{}]}, "mark": {"type": "text", "fontSize": 30, "baseline": "middle", "dx": -21, "dy": -8},
       "encoding": {"x": {"datum": 0, "type": "quantitative", "axis": null}, "y": {"datum": 127, "type": "quantitative", "axis": null}, "text": {"value": "C"}}}
     ]},
    {"width": 338, "height": 88,
     "data": {"name": "cs"}, "mark": {"type": "line", "color": "#559b31", "strokeWidth": 1.2},
     "encoding": {
      "x": {"field": "t", "type": "quantitative", "scale": {"domain": [0, 20], "nice": false, "zero": false}, "axis": {"values": [0,2,4,6,8,10,12,14,16,18,20], "tickSize": -5, "labelPadding": 8, "labelExpr": "datum.value % 10 === 0 ? datum.label : ''", "title": "t [s]", "titleX": 295, "titleY": 12, "titleBaseline": "middle", "titleFontSize": 17}},
      "y": {"field": "r", "type": "quantitative", "scale": {"domain": [-10, 127], "nice": false, "zero": false}, "axis": {"values": [10], "labelExpr": "'r₂'", "ticks": false, "labelPadding": 4, "title": null}}}}
   ]},
   {"spacing": 0, "align": "each", "bounds": "flush", "vconcat": [
    {"width": 339, "height": 89,
     "resolve": {"axis": {"x": "independent", "y": "independent"}},
     "layer": [
      {"data": {"name": "dn"}, "mark": {"type": "line", "color": "#d35a24", "strokeWidth": 1.2},
       "encoding": {
        "x": {"field": "t", "type": "quantitative", "scale": {"domain": [0, 20], "nice": false, "zero": false}, "axis": {"orient": "top", "values": [0,2,4,6,8,10,12,14,16,18,20], "labels": false, "tickSize": -5, "title": null}},
        "y": {"field": "a", "type": "quantitative", "scale": {"domain": [-10, 127], "nice": false, "zero": false}, "axis": {"values": [8], "labelExpr": "'r₁'", "ticks": false, "labelPadding": 4, "title": null}}}},
      {"data": {"values": [{"t": 17, "lo": 67, "hi": 87}]}, "mark": {"type": "rule", "color": "#555555"},
       "encoding": {"x": {"field": "t", "type": "quantitative", "axis": null}, "y": {"field": "lo", "type": "quantitative", "axis": null}, "y2": {"field": "hi"}}},
      {"data": {"values": [{"t": 17, "r": 67}, {"t": 17, "r": 87}]}, "mark": {"type": "point", "shape": "stroke", "size": 25, "filled": false, "color": "#555555", "opacity": 1},
       "encoding": {"x": {"field": "t", "type": "quantitative", "axis": null}, "y": {"field": "r", "type": "quantitative", "axis": null}}},
      {"data": {"values": [{"t": 17.35, "r": 77, "txt": "20Hz"}]}, "mark": {"type": "text", "align": "left", "baseline": "middle", "fontSize": 17},
       "encoding": {"x": {"field": "t", "type": "quantitative", "axis": null}, "y": {"field": "r", "type": "quantitative", "axis": null}, "text": {"field": "txt"}}},
      {"data": {"values": [{}]}, "mark": {"type": "text", "fontSize": 17, "baseline": "alphabetic", "dy": -7},
       "encoding": {"x": {"datum": 10, "type": "quantitative", "axis": null}, "y": {"datum": 127, "type": "quantitative", "axis": null}, "text": {"value": "noise only"}}},
      {"data": {"values": [{}]}, "mark": {"type": "text", "fontSize": 30, "baseline": "middle", "dx": -22, "dy": -8},
       "encoding": {"x": {"datum": 0, "type": "quantitative", "axis": null}, "y": {"datum": 127, "type": "quantitative", "axis": null}, "text": {"value": "D"}}}
     ]},
    {"width": 339, "height": 88,
     "data": {"name": "dn"}, "mark": {"type": "line", "color": "#559b31", "strokeWidth": 1.2},
     "encoding": {
      "x": {"field": "t", "type": "quantitative", "scale": {"domain": [0, 20], "nice": false, "zero": false}, "axis": {"values": [0,2,4,6,8,10,12,14,16,18,20], "tickSize": -5, "labelPadding": 8, "labelExpr": "datum.value % 10 === 0 ? datum.label : ''", "title": "t [s]", "titleX": 298, "titleY": 12, "titleBaseline": "middle", "titleFontSize": 17}},
      "y": {"field": "b", "type": "quantitative", "scale": {"domain": [-10, 127], "nice": false, "zero": false}, "axis": {"values": [12], "labelExpr": "'r₂'", "ticks": false, "labelPadding": 4, "title": null}}}}
   ]}
  ]},
  {"spacing": 0, "align": "each", "bounds": "flush", "vconcat": [
   {"width": 736, "height": 34, "view": {"stroke": null},
    "layer": [
     {"data": {"name": "stim"}, "mark": {"type": "rect", "stroke": "#222222", "strokeWidth": 1},
      "encoding": {
       "x": {"field": "s", "type": "quantitative", "scale": {"domain": [0, 100], "nice": false, "zero": false}, "axis": null},
       "x2": {"field": "e"},
       "y": {"datum": 0, "type": "quantitative", "scale": {"domain": [-0.27, 2], "nice": false, "zero": false}, "axis": null},
       "y2": {"datum": 1},
       "color": {"field": "c", "type": "nominal", "scale": {"domain": ["asymm","symm","P1","P2","off","2Hz","40Hz"], "range": ["#a6a6a6","#111111","#d35a24","#559b31","#e9e7e4","#bcd4a8","#c9a2a2"]}, "legend": null}}},
     {"data": {"values": [{"m": 30, "txt": "2Hz"}, {"m": 70, "txt": "40Hz"}]}, "mark": {"type": "text", "fontSize": 17, "baseline": "middle"},
      "encoding": {"x": {"field": "m", "type": "quantitative", "axis": null}, "y": {"datum": 1.47, "type": "quantitative", "axis": null}, "text": {"field": "txt"}}},
     {"data": {"values": [{}]}, "mark": {"type": "text", "fontSize": 30, "baseline": "middle", "dx": -22, "dy": 7},
      "encoding": {"x": {"datum": 0, "type": "quantitative", "axis": null}, "y": {"datum": 2, "type": "quantitative", "axis": null}, "text": {"value": "E"}}}
    ]},
   {"width": 736, "height": 89,
    "resolve": {"axis": {"x": "independent", "y": "independent"}},
    "layer": [
     {"data": {"name": "ea"}, "mark": {"type": "line", "color": "#d35a24", "strokeWidth": 1.2, "clip": false},
      "encoding": {
       "x": {"field": "t", "type": "quantitative", "scale": {"domain": [0, 100], "nice": false, "zero": false}, "axis": {"orient": "top", "values": [0,10,20,30,40,50,60,70,80,90,100], "labels": false, "tickSize": -5, "title": null}},
       "y": {"field": "r", "type": "quantitative", "scale": {"domain": [-3, 235], "nice": false, "zero": false}, "axis": {"values": [37], "labelExpr": "'r₁'", "ticks": false, "labelPadding": 6, "title": null}}}},
     {"data": {"values": [{"t": 91.7, "lo": 146, "hi": 196}]}, "mark": {"type": "rule", "color": "#555555"},
      "encoding": {"x": {"field": "t", "type": "quantitative", "axis": null}, "y": {"field": "lo", "type": "quantitative", "axis": null}, "y2": {"field": "hi"}}},
     {"data": {"values": [{"t": 91.7, "r": 146}, {"t": 91.7, "r": 196}]}, "mark": {"type": "point", "shape": "stroke", "size": 25, "filled": false, "color": "#555555", "opacity": 1},
      "encoding": {"x": {"field": "t", "type": "quantitative", "axis": null}, "y": {"field": "r", "type": "quantitative", "axis": null}}},
     {"data": {"values": [{"t": 92.2, "r": 171, "txt": "50Hz"}]}, "mark": {"type": "text", "align": "left", "baseline": "middle", "fontSize": 17},
      "encoding": {"x": {"field": "t", "type": "quantitative", "axis": null}, "y": {"field": "r", "type": "quantitative", "axis": null}, "text": {"field": "txt"}}}
    ]},
   {"width": 736, "height": 88,
    "data": {"name": "eb"}, "mark": {"type": "line", "color": "#559b31", "strokeWidth": 1.2, "clip": false},
    "encoding": {
     "x": {"field": "t", "type": "quantitative", "scale": {"domain": [0, 100], "nice": false, "zero": false}, "axis": {"values": [0,10,20,30,40,50,60,70,80,90,100], "tickSize": -5, "labelPadding": 8, "labelExpr": "datum.value % 20 === 0 ? datum.label : ''", "title": "t [s]", "titleX": 669, "titleY": 12, "titleBaseline": "middle", "titleFontSize": 17}},
     "y": {"field": "r", "type": "quantitative", "scale": {"domain": [-3, 232], "nice": false, "zero": false}, "axis": {"values": [34], "labelExpr": "'r₂'", "ticks": false, "labelPadding": 6, "title": null}}}}
  ]}
 ]}
]
}
